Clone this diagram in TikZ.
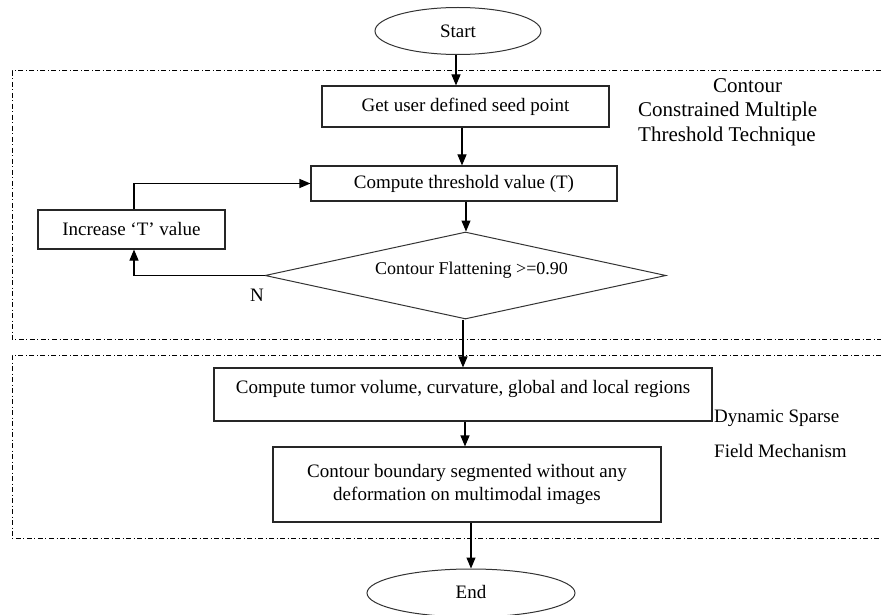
\documentclass[tikz,border=0pt]{standalone}
\usepackage{fontspec}
\setmainfont{Liberation Serif}
\usetikzlibrary{shapes.geometric,arrows.meta}
\begin{document}
\begin{tikzpicture}[x=1pt,y=-1pt,
  every node/.style={font=\fontsize{19}{23}\selectfont},
  procbox/.style={draw=black!85,line width=1.1pt,rectangle,inner sep=0pt,align=center},
  termbox/.style={draw=black!80,line width=1pt,ellipse,inner sep=0pt},
  decbox/.style={draw=black!80,line width=1pt,diamond,aspect=4.61,inner sep=0pt,minimum width=401pt,minimum height=87pt},
  arr/.style={line width=1.1pt,-{Triangle[length=11pt,width=9pt]}},
  flow/.style={line width=1.1pt},
  dashdotline/.style={line width=1pt,dash pattern=on 5pt off 2.5pt on 1pt off 2.5pt},
  plain/.style={inner sep=0pt,align=left}]
\useasboundingbox (0,0) rectangle (881,615);
% group frames
\draw[dashdotline] (881,71) -| (12,339) -- (881,339);
\draw[dashdotline] (881,355) -| (12,538) -- (881,538);
% nodes
\node[termbox,minimum width=166pt,minimum height=47pt] (start) at (458,31) {Start};
\node[procbox,minimum width=287pt,minimum height=41pt] (seed) at (465.5,106.5) {Get user defined seed point};
\node[procbox,minimum width=306pt,minimum height=35pt] (thr) at (464,183.5) {Compute threshold value (T)};
\node[procbox,minimum width=187pt,minimum height=39pt] (inc) at (131.5,229.5) {Increase `T' value};
\node[decbox] (dia) at (465.5,275.5) {\fontsize{18}{21}\selectfont\raisebox{1.5pt}[0pt][0pt]{\hspace*{12pt}Contour Flattening >=0.90}};
\node[plain] (nlab) at (257,295) {N};
\node[procbox,minimum width=498pt,minimum height=53pt] (tum) at (463,394.5) {\raisebox{1.5pt}[0pt][0pt]{Compute tumor volume, curvature, global and local regions}};
\node[procbox,minimum width=388pt,minimum height=75pt] (bnd) at (467,484.5) {\raisebox{5pt}{\parbox{380pt}{\centering Contour boundary segmented without any\\deformation on multimodal images}}};
\node[termbox,minimum width=208pt,minimum height=48pt] (end) at (471,593) {\raisebox{2pt}{End}};
% side labels
\node[plain,anchor=north west,font=\fontsize{21}{24.5}\selectfont] (lab1) at (638,78) {\hspace*{75pt}Contour\\Constrained Multiple\\Threshold Technique};
\node[plain,anchor=west] (lab2a) at (714,418) {Dynamic Sparse};
\node[plain,anchor=west] (lab2b) at (714,451) {Field Mechanism};
% connectors
\draw[arr] ([xshift=-2pt]start.south) -- ([xshift=-2pt]start.south |- seed.north);
\draw[arr] ([xshift=-3.5pt]seed.south) -- ([xshift=-3.5pt]seed.south |- thr.north);
\draw[arr] ([xshift=2pt]thr.south) -- ([xshift=2pt]thr.south |- dia.north);
\draw[arr] ([xshift=-2.5pt]dia.south) -- ([xshift=-2.5pt]dia.south |- tum.north);
\draw[arr] ([xshift=2pt]tum.south) -- ([xshift=2pt]tum.south |- bnd.north);
\draw[arr] (end.north |- bnd.south) -- (end.north);
\draw[arr] (dia.west) -| ([xshift=2.5pt]inc.south);
\draw[arr] ([xshift=2.5pt]inc.north) |- (thr.west);
\end{tikzpicture}
\end{document}
